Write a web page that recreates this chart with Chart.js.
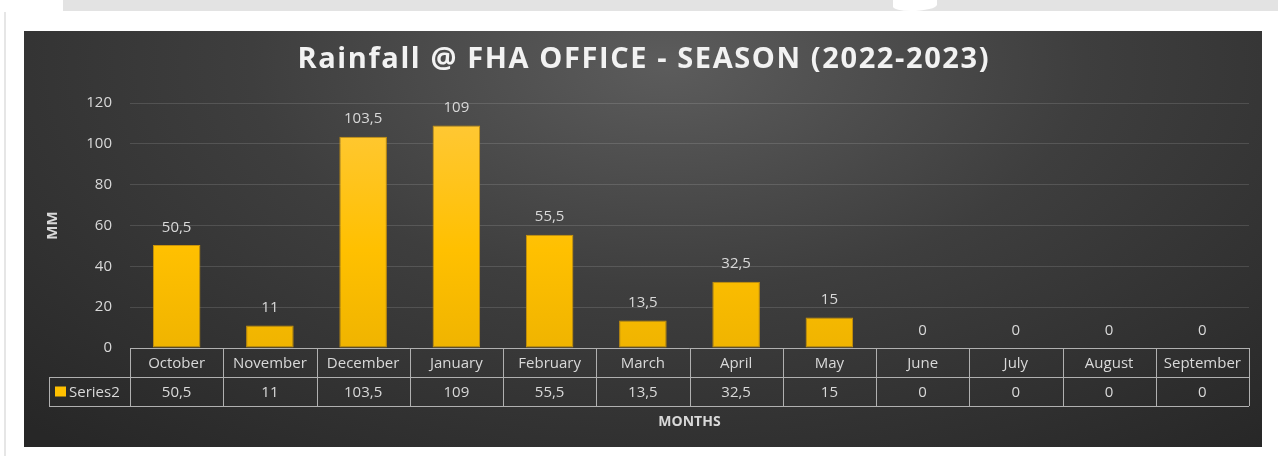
<!DOCTYPE html>
<html>
<head>
<meta charset="utf-8">
<script src="https://cdn.jsdelivr.net/npm/chart.js@4.4.1/dist/chart.umd.min.js"></script>
<style>
  html, body { margin: 0; padding: 0; background: #ffffff; width: 1278px; height: 456px; overflow: hidden; }
  #band { position: absolute; left: 63px; top: 0; width: 1215px; height: 11px; background: #e3e3e3; }
  #notch { position: absolute; left: 893px; top: 0; width: 44px; height: 11px; background: #ffffff; border-radius: 0 0 60% 40%; }
  #vline { position: absolute; left: 4px; top: 12px; width: 2px; height: 444px; background: #e6e6e6; }
  #panel { position: absolute; left: 24px; top: 31px; width: 1238px; height: 416px;
           background: radial-gradient(ellipse 75% 120% at 52% 8%, #5c5c5c 0%, #3e3e3e 45%, #272727 100%); }
  #wrap { position: absolute; left: 0; top: 0; width: 1278px; height: 456px; }
</style>
</head>
<body>
<div id="band"></div><div id="notch"></div><div id="vline"></div>
<div id="panel"></div>
<div id="wrap"><canvas id="c" width="1278" height="456"></canvas></div>
<script>
const categories = ["October","November","December","January","February","March","April","May","June","July","August","September"];
const rainfall = [50.5, 11, 103.5, 109, 55.5, 13.5, 32.5, 15, 0, 0, 0, 0];
const valueLabels = ["50,5","11","103,5","109","55,5","13,5","32,5","15","0","0","0","0"];
const seriesName = "Series2";
const yTicks = [0, 20, 40, 60, 80, 100, 120];
const chartTitle = "Rainfall @ FHA OFFICE - SEASON (2022-2023)";
const xTitle = "MONTHS";
const yTitle = "MM";

const FONT = "'Open Sans', Lato, sans-serif";
const TXT = "#d9d9d9";
const LINE = "#b0b0b0";

const ctx = document.getElementById('c').getContext('2d');

function barGradient(context) {
  const chart = context.chart;
  const ca = chart.chartArea;
  if (!ca) return '#ffc000';
  const g = chart.ctx.createLinearGradient(0, ca.top, 0, ca.bottom);
  g.addColorStop(0, '#ffc93c');
  g.addColorStop(0.6, '#ffc000');
  g.addColorStop(1, '#f0b400');
  return g;
}

const titlePlugin = {
  id: 'spacedTitle',
  afterDraw(chart) {
    const c = chart.ctx;
    c.save();
    c.font = "bold 29px " + FONT;
    c.letterSpacing = '1.6px';
    c.fillStyle = '#f2f2f2';
    c.textAlign = 'center';
    c.textBaseline = 'middle';
    c.fillText(chartTitle, 643 + 0.8, 60);
    c.restore();
  }
};

const labelsPlugin = {
  id: 'valueLabels',
  afterDatasetsDraw(chart) {
    const c = chart.ctx;
    const meta = chart.getDatasetMeta(0);
    c.save();
    c.font = "15px " + FONT;
    c.fillStyle = TXT;
    c.textAlign = 'center';
    c.textBaseline = 'bottom';
    meta.data.forEach((el, i) => {
      c.fillText(valueLabels[i], el.x, el.y - 10);
    });
    c.restore();
  }
};

const tablePlugin = {
  id: 'dataTable',
  afterDraw(chart) {
    const c = chart.ctx;
    const xs = chart.scales.x;
    const ca = chart.chartArea;
    const n = categories.length;
    const half = (xs.getPixelForValue(1) - xs.getPixelForValue(0)) / 2;
    const left = xs.getPixelForValue(0) - half;
    const right = xs.getPixelForValue(n - 1) + half;
    const rowH = 29;
    const y0 = ca.bottom, y1 = y0 + rowH, y2 = y1 + rowH;
    const legLeft = 49;
    c.save();
    c.strokeStyle = LINE;
    c.lineWidth = 1;
    c.beginPath();
    const h = v => Math.round(v) + 0.5;
    c.moveTo(left, h(y0)); c.lineTo(right, h(y0));
    c.moveTo(legLeft, h(y1)); c.lineTo(right, h(y1));
    c.moveTo(legLeft, h(y2)); c.lineTo(right, h(y2));
    c.moveTo(h(legLeft), y1); c.lineTo(h(legLeft), y2);
    for (let i = 0; i <= n; i++) {
      const x = h(left + i * 2 * half);
      c.moveTo(x, y0); c.lineTo(x, y2);
    }
    c.stroke();
    c.font = "15px " + FONT;
    c.fillStyle = TXT;
    c.textAlign = 'center';
    c.textBaseline = 'middle';
    categories.forEach((cat, i) => {
      const x = xs.getPixelForValue(i);
      c.fillText(cat, x, (y0 + y1) / 2 + 1);
      c.fillText(valueLabels[i], x, (y1 + y2) / 2 + 1);
    });
    c.fillStyle = '#ffc000';
    c.fillRect(55, (y1 + y2) / 2 - 5, 11, 10);
    c.fillStyle = TXT;
    c.textAlign = 'left';
    c.fillText(seriesName, 69, (y1 + y2) / 2 + 1);
    c.restore();
  }
};

new Chart(ctx, {
  type: 'bar',
  data: {
    labels: categories,
    datasets: [{
      label: seriesName,
      data: rainfall,
      backgroundColor: barGradient,
      borderColor: '#c9920a',
      borderWidth: 1,
      borderSkipped: false,
      barPercentage: 0.51,
      categoryPercentage: 1.0
    }]
  },
  options: {
    responsive: false,
    animation: false,
    devicePixelRatio: 1,
    layout: { padding: { left: 40, right: 29, top: 103, bottom: 0 } },
    plugins: {
      legend: { display: false },
      tooltip: { enabled: false },
      title: { display: false }
    },
    scales: {
      x: {
        grid: { display: false, drawTicks: false },
        border: { display: false },
        ticks: { display: false },
        title: {
          display: true,
          text: xTitle,
          color: TXT,
          font: { family: FONT, size: 14, weight: 'bold' },
          padding: { top: 0, bottom: 26 }
        },
        afterFit(scale) { scale.height = 456 - 348; }
      },
      y: {
        min: 0,
        max: 120,
        afterBuildTicks(scale) { scale.ticks = yTicks.map(v => ({ value: v })); },
        grid: { color: 'rgba(255,255,255,0.13)', lineWidth: 1, drawTicks: false },
        border: { display: false },
        ticks: {
          color: TXT,
          font: { family: FONT, size: 15 },
          padding: 18
        },
        title: {
          display: true,
          text: yTitle,
          color: TXT,
          font: { family: FONT, size: 15, weight: 'bold' },
          padding: { top: 4, bottom: 0 }
        },
        afterFit(scale) { scale.width = 90; }
      }
    }
  },
  plugins: [labelsPlugin, tablePlugin, titlePlugin]
});
</script>
</body>
</html>
